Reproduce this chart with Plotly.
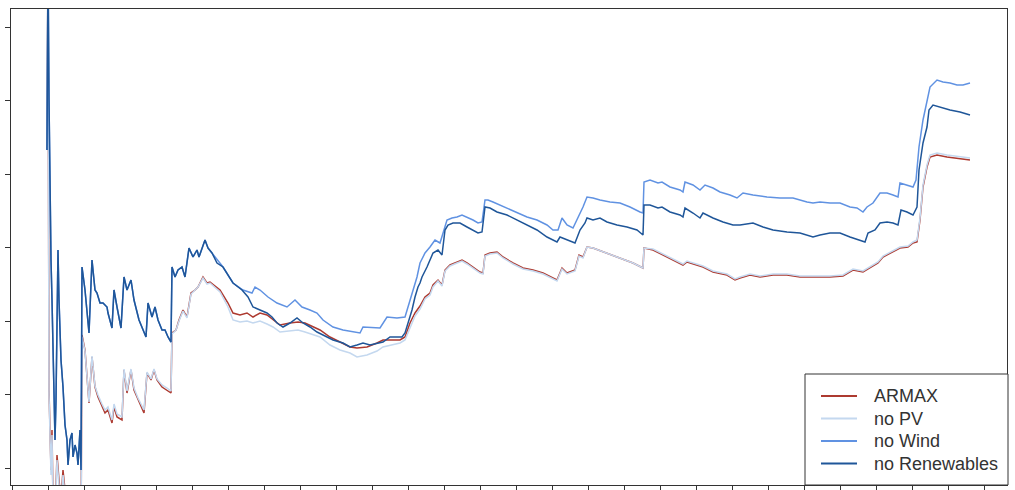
import plotly.graph_objects as go

# ---------------- data ----------------
series_names = ["ARMAX", "no PV", "no Wind", "no Renewables"]

days_armax = [35, 36, 37, 38, 39, 40, 41, 43, 45, 47, 49, 51, 53, 56, 60, 63, 66, 68, 69, 70,
              73, 77, 80, 83, 86, 90, 93, 96, 100, 102, 105, 110, 112, 115, 119, 122, 126, 132, 135, 139,
              142, 145, 150, 155, 159, 160, 164, 167, 171, 175, 179, 183, 186, 191, 195, 198, 208, 216, 221, 228,
              235, 241, 248, 255, 261, 268, 278, 286, 293, 301, 308, 318, 328, 338, 345, 355, 365, 371, 380, 388,
              393, 398, 403, 408, 413, 418, 421, 426, 430, 433, 438, 445, 450, 455, 461, 468, 471, 473, 478, 485,
              491, 501, 511, 521, 531, 541, 545, 550, 555, 563, 567, 571, 575, 581, 595, 608, 621, 631, 632, 641,
              651, 661, 671, 675, 685, 691, 701, 715, 723, 728, 738, 748, 761, 775, 788, 801, 818, 831, 841, 851,
              858, 866, 871, 880, 888, 896, 901, 905, 908, 911, 915, 918, 925, 935, 945, 958]

armax = [33.0, 52.0, 9.0, 6.0, 1.0, 5.0, -2.0, -4.0, 2.5, 0.0, -2.0, 1.0, -1.5, -4.0, -2.0, -3.0, -2.5, -4.0, -6.0, 14.5,
         13.0, 7.7, 12.3, 9.3, 8.3, 7.3, 6.7, 7.0, 5.7, 7.3, 6.3, 6.0, 11.0, 8.7, 11.0, 9.0, 8.0, 6.7, 10.7, 10.0,
         11.0, 10.0, 9.3, 9.0, 8.7, 14.7, 15.0, 16.0, 17.0, 16.3, 18.7, 19.0, 19.3, 20.3, 19.7, 19.8, 19.0, 17.7, 16.7, 16.5,
         16.7, 16.3, 16.7, 16.5, 16.0, 15.5, 15.7, 15.8, 15.7, 15.3, 15.0, 14.3, 13.8, 13.3, 13.2, 13.3, 13.7, 14.0, 14.0, 14.0,
         14.3, 15.7, 16.7, 17.4, 18.3, 18.7, 19.5, 20.0, 19.5, 21.0, 21.5, 21.8, 22.0, 21.7, 21.3, 20.8, 20.7, 22.5, 22.7, 22.8,
         22.3, 21.7, 21.2, 21.0, 20.7, 20.2, 20.0, 21.2, 20.7, 21.0, 22.5, 22.3, 23.3, 23.2, 22.7, 22.2, 21.7, 21.2, 23.2, 23.0,
         22.5, 22.0, 21.5, 21.8, 21.5, 21.3, 20.8, 20.5, 20.0, 20.2, 20.5, 20.3, 20.5, 20.5, 20.3, 20.3, 20.3, 20.4, 21.0, 20.8,
         21.2, 21.7, 22.3, 22.8, 23.2, 23.3, 23.7, 23.8, 26.0, 29.3, 31.3, 32.3, 32.5, 32.3, 32.2, 32.0]

no_pv = [33.0, 52.0, 8.5, 5.5, 0.5, 4.5, -2.5, -4.5, 2.0, -0.5, -2.5, 0.5, -2.0, -4.5, -2.5, -3.5, -3.0, -4.5, -6.5, 14.3,
         12.9, 7.8, 12.4, 9.4, 8.5, 7.6, 7.0, 7.3, 6.0, 7.6, 6.6, 6.3, 11.1, 8.9, 11.1, 9.2, 8.2, 7.0, 10.8, 10.1,
         11.1, 10.1, 9.5, 9.2, 8.9, 14.6, 15.0, 15.9, 16.9, 16.2, 18.6, 19.0, 19.3, 20.2, 19.6, 19.7, 18.8, 17.3, 16.0, 15.8,
         15.9, 15.7, 15.9, 15.6, 15.3, 14.8, 14.9, 15.0, 14.8, 14.5, 14.3, 13.5, 13.0, 12.7, 12.3, 12.5, 12.9, 13.3, 13.5, 13.7,
         14.0, 15.3, 16.4, 17.1, 18.1, 18.5, 19.3, 19.9, 19.4, 20.9, 21.4, 21.7, 21.9, 21.6, 21.2, 20.7, 20.6, 22.4, 22.6, 22.7,
         22.2, 21.6, 21.1, 20.9, 20.6, 20.1, 19.9, 21.1, 20.6, 20.9, 22.4, 22.2, 23.3, 23.2, 22.7, 22.2, 21.7, 21.2, 23.2, 23.1,
         22.6, 22.1, 21.6, 21.9, 21.6, 21.4, 20.9, 20.6, 20.1, 20.3, 20.6, 20.4, 20.6, 20.6, 20.4, 20.4, 20.4, 20.5, 21.1, 20.9,
         21.3, 21.8, 22.4, 22.9, 23.3, 23.4, 23.8, 24.0, 26.2, 29.5, 31.5, 32.5, 32.7, 32.5, 32.4, 32.2]

days_wind = [35, 36, 37, 38, 39, 40, 42, 43, 44, 45, 46, 47, 49, 51, 53, 55, 56, 58, 60, 61,
             63, 65, 66, 68, 69, 70, 73, 77, 80, 83, 85, 88, 91, 95, 96, 100, 102, 105, 109, 112,
             115, 119, 122, 127, 134, 136, 140, 143, 146, 150, 153, 156, 159, 160, 163, 166, 170, 173, 177, 181,
             185, 187, 193, 196, 200,
             211, 221, 231, 240, 243, 248, 256, 265, 275, 283, 290, 298, 305, 311, 321, 331, 341, 348, 351, 361,
             368, 375, 385, 393, 398, 405, 408, 413, 418, 423, 428, 431, 435, 440, 445, 450, 455, 461, 466, 470,
             473, 476, 481, 488, 495, 505, 515, 525, 535, 541, 546, 550, 555, 561, 566, 571, 575, 581, 588, 598,
             608, 618, 628, 631, 632, 638, 646, 650, 658, 668, 671, 673, 681, 688, 693, 701, 708, 718, 725, 731,
             741, 755, 768, 781, 795, 801, 808, 818, 828, 838, 845, 851, 855, 861, 868, 875, 881, 886, 888, 895,
             901, 904, 907, 911, 915, 918, 925, 931, 938, 945, 951, 958]

no_wind = [33.0, 52.0, 38.0, 28.5, 22.0, 18.0, 10.0, 4.0, 8.0, 18.0, 23.0, 18.0, 12.0, 9.3, 5.5, 4.0, 1.5, 4.0, 4.7, 2.3,
           3.5, 2.7, 1.5, 5.0, 1.0, 21.3, 19.0, 14.7, 22.0, 19.0, 18.7, 17.7, 17.7, 17.3, 16.7, 15.2, 19.0, 17.3, 15.2, 20.3,
           19.0, 20.0, 18.0, 16.0, 14.3, 17.7, 16.3, 17.3, 16.0, 15.0, 15.0, 14.3, 13.8, 21.3, 20.3, 21.0, 21.3, 20.3, 23.2, 22.3,
           23.0, 22.3, 24.0, 23.2, 22.7,
           21.3, 19.7, 19.0, 18.7, 19.3, 19.0, 18.3, 17.7, 17.3, 18.0, 17.3, 17.0, 16.7, 16.0, 15.3, 15.0, 14.8, 14.7, 15.3, 15.2,
           15.2, 16.3, 16.2, 16.3, 18.0, 20.3, 21.7, 22.7, 23.3, 24.0, 23.7, 24.8, 26.0, 26.2, 26.3, 26.5, 26.3, 26.0, 25.7, 25.8,
           28.0, 28.0, 27.8, 27.5, 27.2, 26.8, 26.3, 26.0, 25.5, 25.0, 25.0, 26.2, 25.5, 25.2, 26.2, 27.3, 28.3, 28.2, 28.0, 27.8,
           27.7, 27.3, 26.8, 26.7, 29.8, 30.0, 29.7, 29.8, 29.3, 29.0, 28.8, 29.8, 29.5, 29.0, 29.5, 29.2, 28.8, 28.5, 28.2, 28.7,
           28.5, 28.3, 28.2, 28.2, 27.8, 27.7, 27.8, 27.7, 27.7, 27.3, 27.2, 26.8, 27.3, 27.7, 28.7, 28.7, 28.5, 28.3, 29.7, 29.5,
           29.3, 30.0, 33.3, 36.0, 37.7, 39.3, 40.0, 39.8, 39.7, 39.5, 39.5, 39.7]

days_ren = [35, 36, 37, 38, 39, 40, 42, 43, 44, 45, 46, 47, 49, 51, 53, 55, 56, 58, 60, 61,
            63, 65, 66, 68, 69, 70, 73, 77, 80, 83, 85, 88, 91, 95, 96, 100, 102, 105, 109, 112,
            115, 119, 122, 127, 134, 136, 140, 143, 146, 150, 153, 156, 159, 160, 163, 166, 170, 173, 177, 181,
            185, 187, 193, 196, 200, 205, 211, 221, 230, 236, 241, 248, 255, 260, 265, 271, 278, 285, 291, 298,
            305, 311, 321, 331, 338, 345, 351, 358, 365, 371, 378, 385, 390, 393, 396, 400, 403, 406, 408, 410,
            415, 421, 426, 430, 433, 436, 441, 448, 455, 461, 466, 470, 473, 478, 485, 495, 505, 515, 525, 535,
            545, 548, 555, 563, 568, 573, 575, 581, 588, 595, 605, 615, 625, 631, 632, 638, 646, 650, 658, 668,
            671, 673, 681, 688, 691, 701, 711, 721, 728, 741, 751, 761, 775, 788, 801, 808, 818, 828, 838, 848,
            853, 856, 863, 868, 875, 881, 886, 889, 895, 901, 905, 907, 911, 915, 917, 921, 928, 938, 948, 958]

no_renewables = [33.0, 52.0, 38.0, 28.5, 22.0, 18.0, 10.0, 4.0, 8.0, 18.0, 23.0, 18.0, 12.0, 9.3, 5.5, 4.0, 1.5, 4.0, 4.7, 2.3,
                 3.5, 2.7, 1.5, 5.0, 1.0, 21.3, 19.0, 14.7, 22.0, 19.0, 18.7, 17.7, 17.7, 17.3, 16.7, 15.2, 19.0, 17.3, 15.2, 20.3,
                 19.0, 20.0, 18.0, 16.0, 14.3, 17.7, 16.3, 17.3, 16.0, 15.0, 15.0, 14.3, 13.8, 21.3, 20.3, 21.0, 21.3, 20.3, 23.2, 22.3,
                 23.0, 22.3, 24.0, 23.2, 22.7, 21.7, 21.3, 19.7, 19.0, 18.3, 17.3, 17.0, 16.7, 16.3, 15.7, 15.3, 15.7, 16.2, 15.7, 15.3,
                 14.8, 14.5, 14.0, 13.7, 13.3, 13.5, 13.7, 13.5, 13.7, 13.8, 14.3, 14.3, 14.3, 14.7, 15.7, 17.0, 18.3, 19.3, 19.7, 20.3,
                 21.3, 22.7, 23.0, 22.5, 25.0, 25.5, 25.7, 25.7, 25.3, 25.0, 24.7, 24.8, 27.3, 27.2, 26.8, 26.5, 26.0, 25.5, 25.0, 24.3,
                 23.8, 24.3, 24.0, 23.7, 25.0, 25.7, 26.2, 26.0, 26.2, 25.8, 25.5, 25.3, 25.0, 24.5, 27.5, 27.5, 27.2, 27.3, 26.8, 26.5,
                 26.3, 27.2, 26.7, 26.2, 26.7, 26.2, 25.8, 25.5, 25.5, 25.7, 25.3, 25.0, 24.8, 24.7, 24.3, 24.5, 24.7, 24.7, 24.3, 24.0,
                 23.8, 24.7, 25.0, 25.7, 25.8, 25.7, 25.5, 27.0, 26.8, 26.5, 27.3, 31.0, 33.7, 35.3, 37.0, 37.5, 37.3, 37.0, 36.8, 36.5]

assert len(days_armax) == len(armax) == len(no_pv), (len(days_armax), len(armax), len(no_pv))
assert len(days_wind) == len(no_wind), (len(days_wind), len(no_wind))
assert len(days_ren) == len(no_renewables), (len(days_ren), len(no_renewables))

colors = ["#ad3a30", "#c4d8ef", "#6092e2", "#1f5699"]
TEXT = "#333333"

fig = go.Figure()
for name, xs, ys, col in [
    (series_names[0], days_armax, armax, colors[0]),
    (series_names[1], days_armax, no_pv, colors[1]),
    (series_names[2], days_wind, no_wind, colors[2]),
    (series_names[3], days_ren, no_renewables, colors[3]),
]:
    fig.add_trace(go.Scatter(x=xs, y=ys, mode="lines", name=name,
                             line=dict(color=col, width=1.5), showlegend=False))

axis_common = dict(showgrid=False, zeroline=False, showticklabels=False,
                   ticks="outside", ticklen=5, tickwidth=1, tickcolor="#333",
                   showline=True, linecolor="#333", linewidth=1, mirror=True,
                   automargin=False)

fig.update_xaxes(range=[-1, 995], tick0=0, dtick=36, **axis_common)
fig.update_yaxes(range=[-0.5, 47.1], tick0=1.2, dtick=7.35, **axis_common)

# ---- legend box (drawn in paper coordinates, matplotlib-like layout) ----
W, H = 1015, 490
ML, MR, MT, MB = 11, 8, 9, 5
pw, ph = W - ML - MR, H - MT - MB


def px_x(p):
    return (p - ML) / pw


def px_y(p):
    return (H - MB - p) / ph


shapes = [dict(type="rect", xref="paper", yref="paper",
               x0=px_x(805), x1=px_x(1008), y0=px_y(485), y1=px_y(374),
               line=dict(color="#333", width=1), fillcolor="white", layer="above")]
annotations = []
row_y = [396, 418.5, 441, 463.5]
for name, col, ry in zip(series_names, colors, row_y):
    shapes.append(dict(type="line", xref="paper", yref="paper",
                       x0=px_x(821), x1=px_x(857), y0=px_y(ry), y1=px_y(ry),
                       line=dict(color=col, width=2), layer="above"))
    annotations.append(dict(xref="paper", yref="paper", x=px_x(872), y=px_y(ry),
                            xanchor="left", yanchor="middle", showarrow=False,
                            text=name, font=dict(size=18, color=TEXT)))

fig.update_layout(
    width=W, height=H,
    margin=dict(l=ML, r=MR, t=MT, b=MB),
    paper_bgcolor="white", plot_bgcolor="white",
    font=dict(family="Liberation Sans, Arial, sans-serif", size=14, color=TEXT),
    shapes=shapes, annotations=annotations,
    showlegend=False,
)

fig.write_html("out.html")
